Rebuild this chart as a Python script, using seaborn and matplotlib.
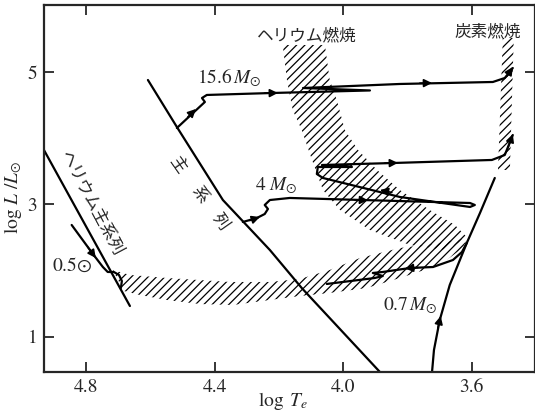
import matplotlib
matplotlib.use("Agg")
import matplotlib.pyplot as plt
import seaborn as sns
import pandas as pd

# ---------------- data (log Te, log L/Lsun) ----------------
ms_T = [4.607, 4.517, 4.374, 4.228, 4.129, 3.886]
ms_L = [4.879, 4.169, 3.066, 2.311, 1.737, 0.468]

he_ms_T = [4.93, 4.663]
he_ms_L = [3.82, 1.465]

t05_T = [4.844, 4.778, 4.747, 4.732, 4.713, 4.697, 4.688, 4.691]
t05_L = [2.689, 2.251, 2.054, 1.979, 1.979, 1.934, 1.843, 1.737]

t156_T = [4.517, 4.430, 4.439, 4.424, 4.219, 3.917, 4.125, 3.824, 3.535, 3.498, 3.473]
t156_L = [4.154, 4.547, 4.607, 4.653, 4.683, 4.721, 4.758, 4.819, 4.849, 4.909, 5.060]

t4_T = [4.312, 4.268, 4.244, 4.234, 4.244, 4.228, 4.166, 3.939, 3.606, 3.591, 3.606,
        3.824, 4.063, 4.082, 4.079, 3.973, 4.066, 3.846, 3.538, 3.498, 3.473]
t4_L = [2.734, 2.795, 2.855, 2.931, 2.991, 3.066, 3.097, 3.066, 3.021, 2.991, 2.961,
        3.112, 3.399, 3.459, 3.565, 3.565, 3.595, 3.625, 3.671, 3.746, 4.048]

t07rgb_T = [3.724, 3.718, 3.700, 3.669, 3.616, 3.575, 3.529]
t07rgb_L = [0.468, 0.801, 1.254, 1.782, 2.417, 2.870, 3.399]

t07hb_T = [3.616, 3.631, 3.659, 3.721, 3.793, 3.877, 3.908, 3.877, 3.902, 4.051]
t07hb_L = [2.417, 2.281, 2.160, 2.054, 2.039, 1.979, 1.964, 1.918, 1.888, 1.798]

# hatched regions
heburn_T = [4.188, 4.175, 4.157, 4.129, 4.097, 4.063, 4.010, 3.917, 3.793, 3.684,
            3.613, 3.653, 3.731, 3.824, 3.895, 3.954, 3.995, 4.020, 4.042, 4.057]
heburn_L = [5.408, 4.879, 4.426, 4.124, 3.671, 3.217, 2.915, 2.613, 2.387, 2.311,
            2.492, 2.689, 2.915, 3.217, 3.520, 3.822, 4.124, 4.577, 4.879, 5.408]

hb_T = [4.716, 4.663, 4.548, 4.352, 4.228, 4.135, 4.042, 3.948, 3.824, 3.700, 3.613,
        3.628, 3.700, 3.824, 3.927, 4.042, 4.135, 4.228, 4.343, 4.446, 4.548, 4.632, 4.682]
hb_L = [2.009, 1.934, 1.888, 1.828, 1.828, 1.873, 2.009, 2.190, 2.341, 2.417, 2.492,
        2.341, 2.085, 1.888, 1.737, 1.662, 1.616, 1.556, 1.480, 1.495, 1.556, 1.631, 1.692]

cburn_T = [3.504, 3.470, 3.482, 3.519]
cburn_L = [5.514, 5.514, 3.520, 3.520]

# arrows: (tail T, tail L, head T, head L)
arrows = [
    (4.483, 4.320, 4.458, 4.441),
    (4.244, 4.680, 4.203, 4.683),
    (3.762, 4.831, 3.724, 4.834),
    (3.491, 4.940, 3.473, 5.076),
    (4.290, 2.757, 4.259, 2.810),
    (3.964, 3.069, 3.923, 3.063),
    (3.849, 3.180, 3.886, 3.217),
    (3.871, 3.622, 3.830, 3.627),
    (3.488, 3.852, 3.473, 4.063),
    (3.706, 1.133, 3.697, 1.314),
    (3.768, 2.047, 3.808, 2.032),
    (4.794, 2.356, 4.769, 2.190),
]

xticks = [4.8, 4.4, 4.0, 3.6]
xticklabels = ["4.8", "4.4", "4.0", "3.6"]
yticks = [1, 3, 5]
yticklabels = ["1", "3", "5"]

# ---------------- style ----------------
sns.set_style("ticks")
plt.rcParams["mathtext.fontset"] = "stix"
plt.rcParams["font.family"] = ["STIXGeneral", "DejaVu Serif"]
plt.rcParams["hatch.linewidth"] = 0.9

fig = plt.figure(figsize=(5.35, 4.15), dpi=100)
ax = fig.add_axes([44 / 535, 43 / 415, 491 / 535, 367 / 415])

lw = 1.6
for T, L in [(ms_T, ms_L), (he_ms_T, he_ms_L), (t05_T, t05_L), (t156_T, t156_L),
             (t4_T, t4_L), (t07rgb_T, t07rgb_L), (t07hb_T, t07hb_L)]:
    df = pd.DataFrame({"T": T, "L": L})
    sns.lineplot(data=df, x="T", y="L", sort=False, estimator=None, ax=ax,
                 color="black", lw=lw, solid_joinstyle="round", solid_capstyle="round")

for T, L in [(heburn_T, heburn_L), (hb_T, hb_L), (cburn_T, cburn_L)]:
    ax.fill(T, L, facecolor="none", edgecolor="black", hatch="////", linewidth=0)

for x0, y0, x1, y1 in arrows:
    ax.annotate("", xy=(x1, y1), xytext=(x0, y0),
                arrowprops=dict(arrowstyle="-|>", color="black", lw=1.2,
                                mutation_scale=12, shrinkA=0, shrinkB=0))

# labels
ax.text(4.455, 4.834, r"$15.6\,M_{\odot}$", fontsize=14, ha="left", va="baseline")
ax.text(4.275, 3.217, r"$4\ M_{\odot}$", fontsize=14, ha="left", va="baseline")
ax.text(3.877, 1.405, r"$0.7\,M_{\odot}$", fontsize=14, ha="left", va="baseline")
ax.text(4.906, 1.994, r"$0.5\!\odot$", fontsize=14, ha="left", va="baseline")

jp = ["Noto Sans CJK JP", "DejaVu Sans"]
ax.text(4.113, 5.544, "ヘリウム燃焼", family=jp, fontsize=12, ha="center", va="center")
ax.text(3.550, 5.604, "炭素燃焼", family=jp, fontsize=12, ha="center", va="center")
for ch, T, L in [("主", 4.517, 3.595), ("系", 4.446, 3.142), ("列", 4.383, 2.734)]:
    ax.text(T, L, ch, family=jp, fontsize=12, ha="center", va="center",
            rotation=-55, rotation_mode="anchor")
ax.text(4.783, 3.006, "ヘリウム主系列", family=jp, fontsize=12, ha="center",
        va="center", rotation=-62, rotation_mode="anchor")

ax.set_xlim(4.93, 3.404)
ax.set_ylim(0.468, 6.012)
ax.set_xticks(xticks)
ax.set_xticklabels(xticklabels)
ax.set_yticks(yticks)
ax.set_yticklabels(yticklabels)
ax.tick_params(direction="in", length=7, width=1.3, top=True, right=True,
               labelsize=14, pad=5)
for s in ax.spines.values():
    s.set_linewidth(1.6)

ax.set_xlabel(r"$\log\ T_e$", fontsize=14)
ax.set_ylabel(r"$\log\, L\ /L_{\odot}$", fontsize=14)
ax.xaxis.set_label_coords((283 - 44) / 491, -(390 - 372) / 367)
ax.yaxis.set_label_coords((24 - 44) / 491, (372 - 197) / 367)

fig.savefig("out.png", dpi=100)
